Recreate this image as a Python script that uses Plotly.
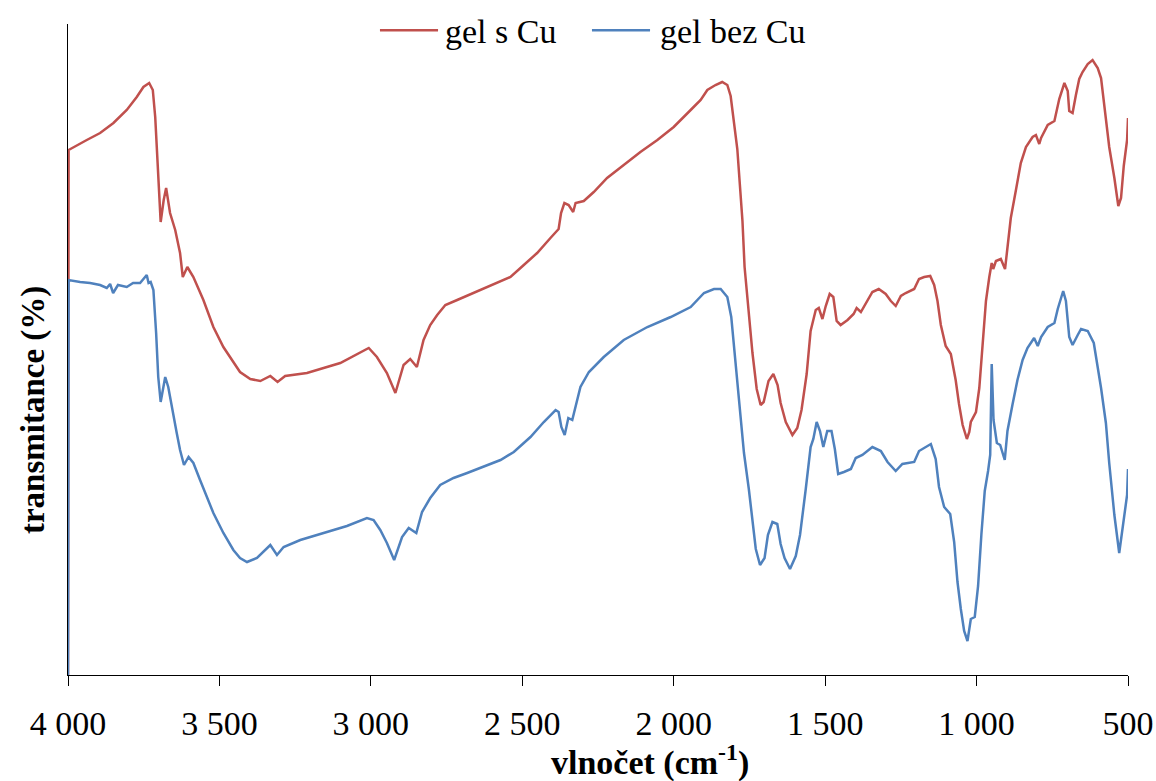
import plotly.graph_objects as go

# FTIR spectra: wavenumber (cm-1) vs transmittance (%)
wn_cu = [4000, 3998, 3938, 3894, 3850, 3806, 3773, 3751, 3732, 3720, 3712, 3705, 3694, 3684, 3676,
         3663, 3646, 3630, 3621, 3606, 3586, 3553, 3520, 3487, 3432, 3398, 3365, 3332, 3308, 3283,
         3211, 3101, 3035, 3007, 2980, 2947, 2919, 2892, 2870, 2848, 2826, 2804, 2781, 2754, 2715,
         2638, 2583, 2539, 2495, 2451, 2407, 2380, 2372, 2361, 2347, 2332, 2324, 2297, 2264, 2220,
         2165, 2110, 2054, 2000, 1944, 1911, 1889, 1862, 1840, 1823, 1812, 1790, 1773, 1766, 1753,
         1740, 1726, 1713, 1703, 1696, 1687, 1671, 1657, 1647, 1630, 1608, 1592, 1578, 1561, 1548,
         1531, 1521, 1509, 1498, 1485, 1473, 1462, 1449, 1426, 1406, 1396, 1382, 1366, 1344, 1323,
         1300, 1283, 1267, 1250, 1234, 1206, 1190, 1173, 1153, 1140, 1129, 1118, 1102, 1085, 1069,
         1058, 1046, 1032, 1024, 1019, 1002, 991, 980, 969, 958, 950, 945, 936, 920, 906,
         900, 887, 870, 854, 837, 815, 804, 793, 787, 765, 743, 727, 710, 699, 694,
         683, 672, 661, 650, 633, 617, 600, 589, 578, 562, 545, 532, 523, 514, 503, 500]
t_cu = [0, 52.5, 53.5, 54.2, 55.2, 56.5, 57.8, 58.8, 59.2, 58.5, 55.8, 51.5, 45.3, 47.5, 48.7,
        46.2, 44.5, 42.2, 39.8, 40.8, 39.8, 37.5, 34.8, 32.8, 30.3, 29.6, 29.4, 29.9, 29.3, 29.9,
        30.2, 31.2, 32.3, 32.7, 31.8, 30.2, 28.2, 31.0, 31.6, 30.8, 33.5, 35.0, 36.0, 37.0, 37.5,
        38.5, 39.2, 39.8, 41.0, 42.2, 43.7, 44.6, 46.2, 47.2, 47.0, 46.3, 47.2, 47.4, 48.3, 49.7,
        51.0, 52.3, 53.5, 54.8, 56.5, 57.5, 58.5, 59.0, 59.3, 59.0, 57.9, 52.6, 45.4, 40.8, 36.5,
        32.2, 28.6, 27.0, 27.3, 28.3, 29.4, 30.1, 29.0, 27.2, 25.3, 24.0, 24.7, 26.5, 30.1, 34.4,
        36.5, 36.7, 35.6, 36.9, 38.1, 37.8, 35.4, 35.0, 35.5, 36.1, 36.7, 36.3, 37.2, 38.3, 38.6,
        38.1, 37.4, 36.9, 37.9, 38.2, 38.6, 39.6, 39.8, 39.9, 39.0, 37.4, 35.0, 32.9, 32.1, 29.5,
        27.1, 25.0, 23.6, 24.3, 25.3, 26.3, 28.7, 33.5, 37.4, 39.8, 41.2, 40.6, 41.4, 41.6, 40.6,
        42.2, 45.7, 48.5, 51.2, 52.8, 53.8, 54.0, 53.1, 53.7, 55.0, 55.4, 57.6, 59.2, 58.4, 56.4,
        56.2, 58.0, 59.6, 60.3, 61.1, 61.5, 60.7, 59.7, 56.8, 52.8, 49.7, 46.9, 47.7, 50.9, 53.5, 55.7]

wn_bez = [4000, 3998, 3960, 3927, 3894, 3872, 3861, 3851, 3835, 3806, 3785, 3762, 3740, 3734, 3727,
          3718, 3709, 3702, 3694, 3679, 3669, 3652, 3641, 3630, 3617, 3602, 3586, 3564, 3542, 3520,
          3487, 3454, 3432, 3409, 3376, 3356, 3332, 3310, 3288, 3233, 3156, 3079, 3013, 2991, 2969,
          2947, 2923, 2897, 2875, 2850, 2831, 2804, 2771, 2727, 2682, 2638, 2572, 2528, 2473, 2429,
          2390, 2380, 2371, 2360, 2348, 2335, 2319, 2308, 2280, 2231, 2165, 2087, 2010, 1944, 1900,
          1867, 1845, 1823, 1810, 1796, 1779, 1768, 1752, 1740, 1729, 1715, 1700, 1689, 1674, 1658,
          1647, 1634, 1616, 1597, 1583, 1564, 1548, 1539, 1528, 1517, 1506, 1493, 1479, 1468, 1457,
          1438, 1415, 1399, 1377, 1344, 1316, 1294, 1267, 1245, 1206, 1190, 1168, 1151, 1135, 1124,
          1107, 1087, 1074, 1063, 1052, 1041, 1030, 1019, 1006, 995, 984, 973, 962, 955, 950,
          944, 933, 922, 907, 898, 881, 865, 848, 832, 810, 798, 787, 765, 743, 732,
          714, 705, 694, 683, 666, 655, 633, 613, 589, 573, 562, 545, 529, 518, 503, 500]
t_bez = [0, 39.5, 39.3, 39.2, 39.0, 38.7, 39.1, 38.2, 39.0, 38.8, 39.2, 39.2, 40.0, 39.2, 39.3,
         38.5, 34.2, 29.8, 27.3, 29.8, 28.8, 25.8, 24.2, 22.5, 21.0, 21.8, 21.2, 19.5, 17.8, 16.2,
         14.2, 12.5, 11.7, 11.3, 11.7, 12.3, 13.0, 12.0, 12.8, 13.5, 14.2, 14.9, 15.7, 15.5, 14.5,
         13.2, 11.5, 13.8, 14.7, 14.2, 16.3, 17.7, 19.0, 19.7, 20.2, 20.7, 21.5, 22.3, 23.8, 25.3,
         26.5, 26.3, 24.8, 24.0, 25.7, 25.5, 27.5, 28.8, 30.3, 31.8, 33.5, 34.8, 35.8, 36.8, 38.2,
         38.6, 38.6, 37.8, 35.8, 31.1, 25.8, 22.2, 18.6, 15.1, 12.6, 11.0, 11.7, 14.0, 15.3, 15.1,
         13.1, 11.7, 10.6, 11.9, 14.0, 18.6, 22.8, 23.6, 25.3, 24.4, 22.8, 24.4, 24.4, 22.6, 20.1,
         20.3, 20.6, 21.7, 22.0, 22.8, 22.4, 21.3, 20.4, 21.1, 21.3, 22.4, 22.8, 23.1, 21.6, 18.8,
         16.8, 16.1, 13.3, 9.3, 6.6, 4.4, 3.4, 5.6, 5.8, 8.9, 14.1, 18.4, 20.4, 22.0, 31.1,
         25.5, 23.2, 23.0, 21.5, 24.4, 27.1, 29.5, 31.5, 32.7, 33.7, 32.9, 33.8, 34.8, 35.2, 36.6,
         38.4, 37.4, 33.8, 33.0, 34.0, 34.6, 34.4, 33.2, 28.7, 25.2, 21.2, 16.0, 12.2, 14.5, 18.0, 20.6]

tick_vals = [4000, 3500, 3000, 2500, 2000, 1500, 1000, 500]
tick_text = ["4 000", "3 500", "3 000", "2 500", "2 000", "1 500", "1 000", "500"]

series_names = ["gel s Cu", "gel bez Cu"]

SERIF = '"Liberation Serif", "Times New Roman", "DejaVu Serif", serif'
RED = "#C0504D"
BLUE = "#4F81BD"
colors = [RED, BLUE]

fig = go.Figure()
fig.add_trace(go.Scatter(x=wn_cu, y=t_cu, mode="lines", name=series_names[0],
                         line=dict(color=RED, width=2.5)))
fig.add_trace(go.Scatter(x=wn_bez, y=t_bez, mode="lines", name=series_names[1],
                         line=dict(color=BLUE, width=2.5)))

# Legend drawn as line keys + labels centred above the plot
legend_y = 0.9905
key_x = [(0.2943, 0.3491), (0.4943, 0.5491)]
label_x = [0.3538, 0.5566]
shapes = []
annotations = []
for (x0, x1), lx, name, col in zip(key_x, label_x, series_names, colors):
    shapes.append(dict(type="line", xref="paper", yref="paper", x0=x0, x1=x1,
                       y0=legend_y, y1=legend_y, line=dict(color=col, width=2.5)))
    annotations.append(dict(text=name, xref="paper", yref="paper", x=lx, y=legend_y - 0.002,
                            xanchor="left", yanchor="middle", showarrow=False,
                            font=dict(family=SERIF, size=34)))

annotations += [
    dict(text="<b>vlnočet (cm<sup>-1</sup>)</b>", xref="paper", yref="paper",
         x=0.549, y=-0.1306, xanchor="center", yanchor="middle", showarrow=False,
         font=dict(family=SERIF, size=34)),
    dict(text="<b>transmitance (%)</b>", xref="paper", yref="paper",
         x=-0.033, y=0.407, xanchor="center", yanchor="middle", showarrow=False,
         textangle=-90, font=dict(family=SERIF, size=33)),
]

fig.update_layout(
    width=1156, height=781,
    margin=dict(l=68, r=28, t=24, b=106, autoexpand=False),
    paper_bgcolor="white", plot_bgcolor="white",
    font=dict(family=SERIF, size=34, color="black"),
    showlegend=False,
    xaxis=dict(range=[4000, 500], tickvals=tick_vals, ticktext=tick_text, automargin=False,
               showgrid=False, zeroline=False, showline=True, linecolor="black", linewidth=1.3,
               ticks="outside", ticklen=10, tickwidth=1.3, tickcolor="black",
               tickfont=dict(family=SERIF, size=34), ticklabelstandoff=8),
    yaxis=dict(range=[0, 65.1], showgrid=False, zeroline=False, showline=True, automargin=False,
               linecolor="black", linewidth=1.3, showticklabels=False, ticks=""),
    shapes=shapes,
    annotations=annotations,
)

fig.write_html("out.html")
